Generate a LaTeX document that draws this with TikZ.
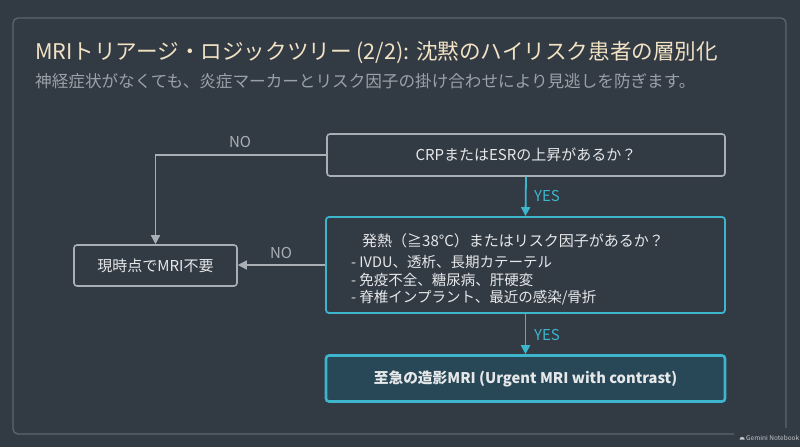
\documentclass[tikz,border=0pt]{standalone}
\usepackage{fontspec}
\setmainfont{Noto Sans CJK JP}
\usetikzlibrary{arrows.meta}
\definecolor{bg}{HTML}{323A44}
\definecolor{framec}{HTML}{5C6670}
\definecolor{titlec}{HTML}{F2E2C4}
\definecolor{subc}{HTML}{9BA1A8}
\definecolor{txt}{HTML}{E6E8EA}
\definecolor{grayc}{HTML}{A9AFB5}
\definecolor{cyanc}{HTML}{3DB5CC}
\definecolor{urgfill}{HTML}{284757}
\definecolor{wmark}{HTML}{C4C8CC}
\tikzset{
  graybox/.style={draw=grayc, line width=1.6pt, rounded corners=3pt, inner sep=0pt},
  cyanbox/.style={draw=cyanc, line width=1.8pt, rounded corners=3pt, inner sep=0pt},
  urgbox/.style={draw=cyanc, fill=urgfill, line width=2.6pt, rounded corners=3pt, inner sep=0pt},
  boxtext/.style={text=txt, font=\fontsize{15}{18}\selectfont, inner sep=0pt},
  listtext/.style={text=txt, font=\fontsize{14.5}{17.6}\selectfont, inner sep=0pt, anchor=west},
  grayline/.style={draw=grayc, line width=1.5pt, -{Triangle[length=9pt,width=9pt]}},
  cyanline/.style={draw=cyanc, line width=1.8pt, -{Triangle[length=9pt,width=9pt]}},
  nolabel/.style={text=grayc, font=\fontsize{15}{17}\selectfont, inner sep=0pt},
  yeslabel/.style={text=cyanc, font=\fontsize{15}{17}\selectfont, inner sep=0pt},
}
\begin{document}
\begin{tikzpicture}[x=1pt,y=-1pt]
\fill[bg] (0,0) rectangle (800,447);
\useasboundingbox (0,0) rectangle (800,447);
\draw[framec, line width=1.3pt, rounded corners=5pt] (13,18) rectangle (786,434);

% title and subtitle
\node[anchor=west, text=titlec, inner sep=0pt, font=\fontsize{21.6}{24}\selectfont] (title) at (35,53) {MRIトリアージ・ロジックツリー (2/2): 沈黙のハイリスク患者の層別化};
\node[anchor=west, text=subc, inner sep=0pt, font=\fontsize{16.6}{19}\selectfont] (subtitle) at (35,81) {神経症状がなくても、炎症マーカーとリスク因子の掛け合わせにより見逃しを防ぎます。};

% boxes
\node[graybox, minimum width=398pt, minimum height=42pt] (crp) at (526,155) {};
\node[boxtext] (crptext) at (crp.center) {CRPまたはESRの上昇があるか？};

\node[cyanbox, minimum width=399pt, minimum height=96pt] (risk) at (525.5,265) {};
\node[boxtext, anchor=west] (riskq) at (362,241) {発熱（≧38°C）またはリスク因子があるか？};
\node[listtext] (risk1) at (351,262) {- IVDU、透析、長期カテーテル};
\node[listtext] (risk2) at (351,280) {- 免疫不全、糖尿病、肝硬変};
\node[listtext] (risk3) at (351,297.5) {- 脊椎インプラント、最近の感染/骨折};

\node[urgbox, minimum width=399pt, minimum height=46pt] (urgent) at (525.5,378.5) {};
\node[boxtext, font=\fontsize{14.7}{18}\selectfont\bfseries] (urgtext) at (urgent.center) {至急の造影MRI (Urgent MRI with contrast)};

\node[graybox, minimum width=163pt, minimum height=41pt] (none) at (155.5,265.5) {};
\node[boxtext] (nonetext) at (none.center) {現時点でMRI不要};

% connectors
\draw[grayline] (crp.west) -| (none.north);
\node[nolabel] (no1) at (240,142) {NO};
\draw[grayline] (risk.west) -- (risk.west -| none.east);
\node[nolabel] (no2) at (281,253) {NO};

\draw[cyanline] (crp.south) -- (risk.north);
\node[yeslabel] (yes1) at (547,196) {YES};
\draw[cyanline] (risk.south) -- (urgent.north);
\node[yeslabel] (yes2) at (547,335) {YES};

% watermark
\fill[bg] (734,428) rectangle (800,447);
\fill[wmark] (739.5,439.5) arc[start angle=180, end angle=0, radius=2.6pt] -- cycle;
\node[anchor=west, text=wmark, inner sep=0pt, font=\fontsize{6.5}{8}\selectfont] (wm) at (746,438) {Gemini Notebook};
\end{tikzpicture}
\end{document}
